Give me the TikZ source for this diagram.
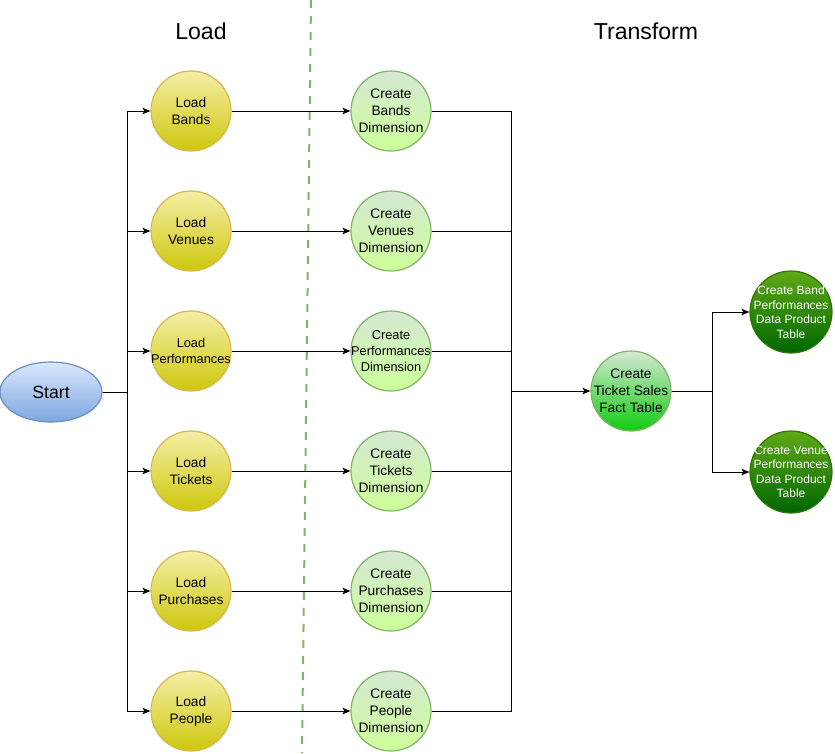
\documentclass[tikz,border=0pt]{standalone}
\usepackage{fontspec}
\setmainfont{Liberation Sans}
\usetikzlibrary{arrows.meta,shapes.geometric}
\definecolor{startT}{HTML}{DAE8FC}
\definecolor{startB}{HTML}{7EA6E0}
\definecolor{startD}{HTML}{6C8EBF}
\definecolor{loadT}{HTML}{F4EFA6}
\definecolor{loadB}{HTML}{CFC70E}
\definecolor{loadD}{HTML}{D6B656}
\definecolor{crT}{HTML}{D5E8D4}
\definecolor{crB}{HTML}{CCFF99}
\definecolor{crD}{HTML}{82B366}
\definecolor{factB}{HTML}{11CC11}
\definecolor{prodT}{HTML}{60A917}
\definecolor{prodB}{HTML}{006600}
\definecolor{prodD}{HTML}{2D7600}
\tikzset{
  px/.style={x=0.75pt,y=-0.75pt},
  txt/.style={label={[align=center,inner sep=0pt,font=\fontsize{10.3}{12.75}\selectfont]center:#1}},
  stxt/.style={label={[align=center,inner sep=0pt,font=\fontsize{9.6}{11.8}\selectfont]center:#1}},
  wtxt/.style={label={[align=center,inner sep=0pt,text=white,font=\fontsize{9}{10.9}\selectfont]center:#1}},
  base/.style={circle,minimum size=60pt,inner sep=0pt,line width=0.9pt},
  loadnode/.style={base,draw=loadD,top color=loadT,bottom color=loadB},
  createnode/.style={base,draw=crD,top color=crT,bottom color=crB},
  factnode/.style={base,draw=crD,top color=crT,bottom color=factB},
  prodnode/.style={base,draw=prodD,top color=prodT,bottom color=prodB,minimum size=61.5pt},
  startnode/.style={ellipse,minimum width=76.5pt,minimum height=45pt,inner sep=0pt,draw=startD,top color=startT,bottom color=startB,line width=0.9pt,font=\fontsize{13.3}{15}\selectfont},
  conn/.style={line width=0.75pt,draw=black},
  arr/.style={conn,-{Stealth[length=6pt,width=5pt,inset=1.5pt]}},
  title/.style={font=\fontsize{17.3}{20}\selectfont},
}
\begin{document}
\begin{tikzpicture}[px]
\useasboundingbox (0,0) rectangle (835,753);
\draw[draw=crD,line width=1.5pt,dash pattern=on 6pt off 6pt] (311,0) -- (302,753);
\node[title] (tload) at (201,31) {Load};
\node[title] (ttrans) at (646,31) {Transform};
\node[startnode] (start) at (51,392) {Start};
\foreach \n/\t/\s [count=\i from 0] in {bands/Bands/txt,venues/Venues/txt,perf/Performances/stxt,tick/Tickets/txt,purch/Purchases/txt,people/People/txt}{
  \node[loadnode,\s={Load\\\t}] (L\n) at (191,111+120*\i) {};
  \node[createnode,\s={Create\\\t\\Dimension}] (C\n) at (391,111+120*\i) {};
  \draw[arr] (L\n) -- (C\n);
  \draw[arr] (start.east) -| ++(25,0) |- (L\n.west);
  \draw[conn] (C\n.east) -| (511,392);
}
\node[factnode,txt={Create\\Ticket Sales\\Fact Table}] (fact) at (631,391) {};
\draw[arr] (511,391) -- (fact.west);
\node[prodnode,wtxt={Create Band\\Performances\\Data Product\\Table}] (pband) at (791,312) {};
\node[prodnode,wtxt={Create Venue\\Performances\\Data Product\\Table}] (pvenue) at (791,472) {};
\draw[arr] (fact.east) -- (712,391) |- (pband.west);
\draw[arr] (fact.east) -- (712,391) |- (pvenue.west);
\end{tikzpicture}
\end{document}
